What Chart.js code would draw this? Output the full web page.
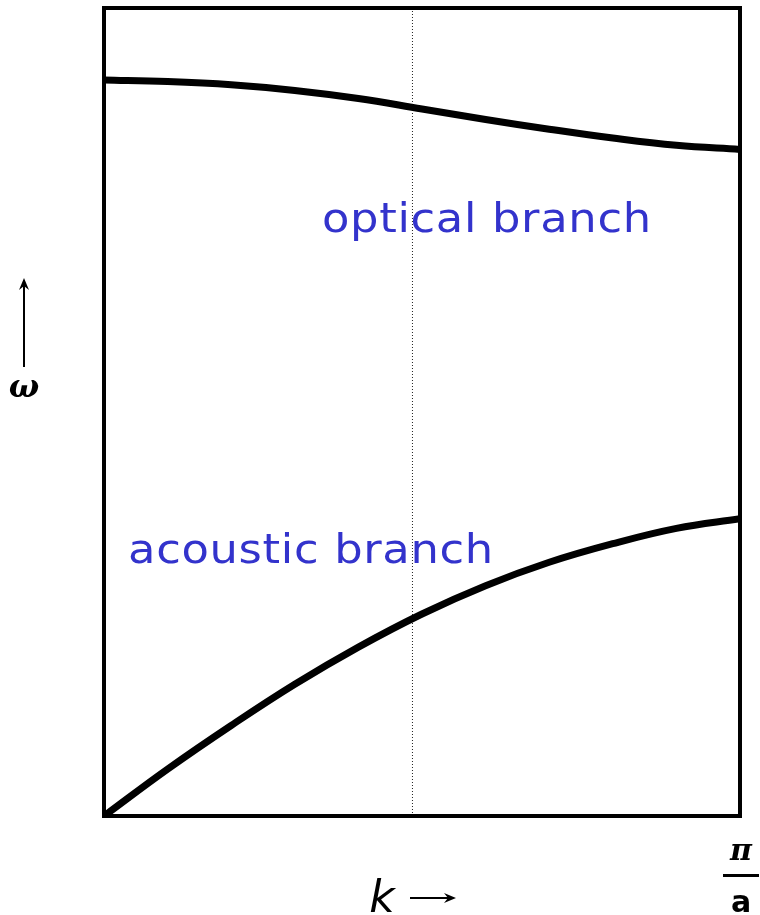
<!DOCTYPE html>
<html>
<head>
<meta charset="utf-8">
<script src="https://cdn.jsdelivr.net/npm/chart.js@4.4.1/dist/chart.umd.min.js"></script>
<style>
  body { margin: 0; background: #fff; }
</style>
</head>
<body>
<canvas id="myChart" width="760" height="915"></canvas>
<script>
// k from 0 to pi/a, omega in arbitrary units (0..1 = bottom..top of the box)
const kValues = [0, 0.1, 0.2, 0.3, 0.4, 0.5, 0.6, 0.7, 0.8, 0.9, 1.0];
const optical = [0.911, 0.909, 0.905, 0.898, 0.888, 0.875, 0.862, 0.850, 0.839, 0.830, 0.825];
const acoustic = [0, 0.058, 0.112, 0.163, 0.209, 0.25, 0.285, 0.314, 0.337, 0.356, 0.368];
const midK = 0.485;
const labels = ["optical branch", "acoustic branch"];

function pts(ys) {
  return kValues.map((k, i) => ({ x: k, y: ys[i] }));
}

function arrowHead(c, x, y, dx, dy) {
  // small filled arrow head pointing along (dx, dy)
  const px = -dy, py = dx;
  c.beginPath();
  c.moveTo(x, y);
  c.lineTo(x - dx * 12 + px * 5, y - dy * 12 + py * 5);
  c.lineTo(x - dx * 8, y - dy * 8);
  c.lineTo(x - dx * 12 - px * 5, y - dy * 12 - py * 5);
  c.closePath();
  c.fill();
}

// wide sans label, stretched a bit like the original Verdana-ish text
function wideText(c, txt, x, y) {
  c.save();
  c.translate(x, y);
  c.scale(1.12, 1);
  c.fillText(txt, 0, 0);
  c.restore();
}

const decorations = {
  id: "decorations",
  afterDraw(chart) {
    const c = chart.ctx;
    const a = chart.chartArea;
    c.save();
    // box
    c.strokeStyle = "#000";
    c.lineWidth = 4;
    c.strokeRect(a.left, a.top, a.right - a.left, a.bottom - a.top);

    // branch labels
    c.fillStyle = "#3333cc";
    c.font = "40px 'DejaVu Sans'";
    c.letterSpacing = "0.6px";
    c.textBaseline = "alphabetic";
    wideText(c, labels[0], 322, 232);
    wideText(c, labels[1], 128, 563);
    c.letterSpacing = "0px";

    // omega axis
    c.fillStyle = "#000";
    c.strokeStyle = "#000";
    c.lineWidth = 2;
    c.beginPath();
    c.moveTo(24, 367);
    c.lineTo(24, 284);
    c.stroke();
    arrowHead(c, 24, 278, 0, -1);
    c.font = "italic bold 32px 'DejaVu Serif'";
    c.textAlign = "center";
    c.fillText("ω", 24, 397);

    // k axis
    c.font = "italic 44px 'DejaVu Sans'";
    c.fillText("k", 382, 912);
    c.lineWidth = 2;
    c.beginPath();
    c.moveTo(410, 898);
    c.lineTo(450, 898);
    c.stroke();
    arrowHead(c, 456, 898, 1, 0);

    // pi / a
    c.font = "bold italic 30px 'DejaVu Serif'";
    c.fillText("π", 741, 860);
    c.fillRect(723, 874, 36, 3);
    c.font = "bold 30px 'DejaVu Sans'";
    c.fillText("a", 741, 912);
    c.restore();
  },
};

new Chart(document.getElementById("myChart"), {
  type: "line",
  data: {
    datasets: [
      {
        label: "optical",
        data: pts(optical),
        borderColor: "#000",
        borderWidth: 7,
        pointRadius: 0,
        tension: 0.4,
      },
      {
        label: "acoustic",
        data: pts(acoustic),
        borderColor: "#000",
        borderWidth: 7,
        pointRadius: 0,
        tension: 0.4,
      },
      {
        label: "mid",
        data: [{ x: midK, y: 0 }, { x: midK, y: 1 }],
        borderColor: "#222",
        borderWidth: 1,
        borderDash: [1, 2],
        pointRadius: 0,
      },
    ],
  },
  options: {
    responsive: false,
    animation: false,
    layout: { padding: { left: 104, right: 20, top: 8, bottom: 99 } },
    plugins: { legend: { display: false }, tooltip: { enabled: false } },
    scales: {
      x: { type: "linear", min: 0, max: 1, display: false },
      y: { min: 0, max: 1, display: false },
    },
  },
  plugins: [decorations],
});
</script>
</body>
</html>
